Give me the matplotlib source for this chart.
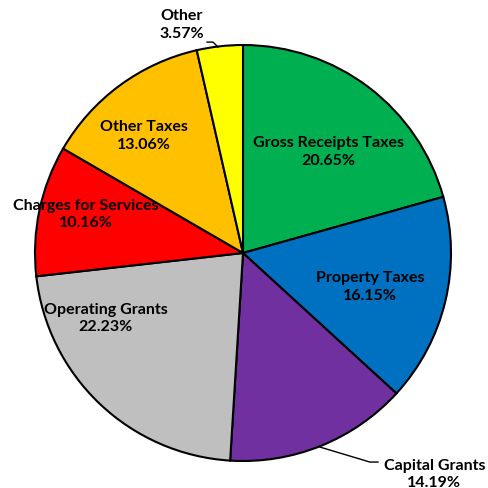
import matplotlib
matplotlib.use('Agg')
import matplotlib.pyplot as plt

labels = ["Gross Receipts Taxes", "Property Taxes", "Capital Grants", "Operating Grants",
          "Charges for Services", "Other Taxes", "Other"]
shares = [20.65, 16.15, 14.19, 22.23, 10.16, 13.06, 3.57]
colors = ["#00B050", "#0070C0", "#7030A0", "#BFBFBF", "#FF0000", "#FFC000", "#FFFF00"]

# label text positions (data coords, pie radius = 1)
label_pos = [(0.41, 0.49), (0.61, -0.16), (0.92, -1.06), (-0.66, -0.31),
             (-0.755, 0.19), (-0.476, 0.567), (-0.293, 1.10)]
# leader lines for outside labels
leaders = {
    "Capital Grants": [(0.37, -0.933), (0.61, -1.005), (0.649, -1.005)],
    "Other": [(-0.173, 1.014), (-0.144, 1.014), (-0.12, 0.99)],
}

fig = plt.figure(figsize=(4.88, 4.89), dpi=100)
ax = fig.add_axes([0.0717, 0.0552, 0.8525, 0.8507])

ax.pie(shares, colors=colors, startangle=90, counterclock=False, radius=1,
       wedgeprops=dict(edgecolor="black", linewidth=1.5))

for lab, v, (x, y) in zip(labels, shares, label_pos):
    ax.text(x, y, f"{lab}\n{v:.2f}%", ha="center", va="center", fontsize=11.5,
            fontweight="bold", family="Lato", linespacing=1.35, color="black")

for pts in leaders.values():
    xs, ys = zip(*pts)
    ax.plot(xs, ys, color="black", lw=1, clip_on=False)

ax.set_xlim(-1, 1)
ax.set_ylim(-1, 1)
ax.set_aspect("equal")
ax.axis("off")

fig.savefig("out.png", dpi=100)
